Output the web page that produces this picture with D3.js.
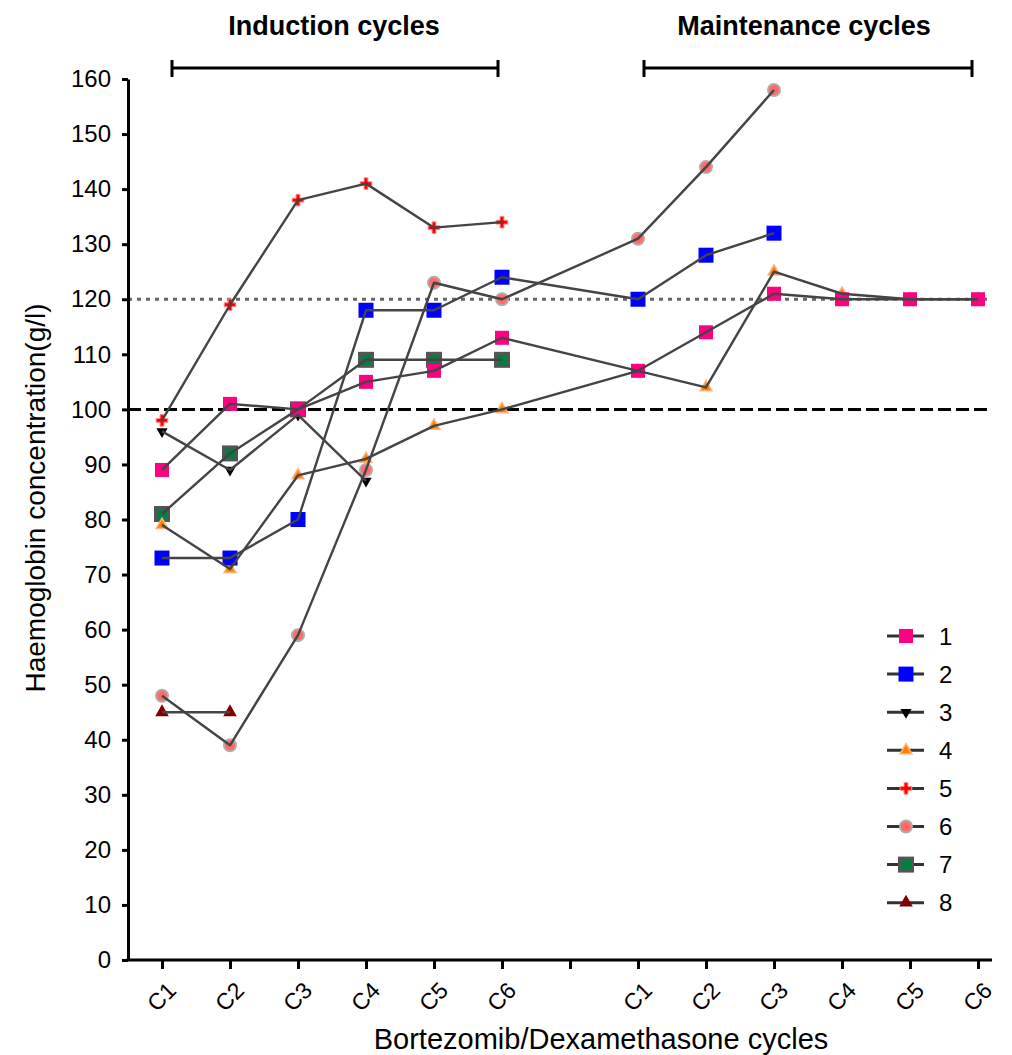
<!DOCTYPE html>
<html>
<head>
<meta charset="utf-8">
<script src="https://cdn.jsdelivr.net/npm/d3@7"></script>
<style>
  html, body { margin: 0; padding: 0; background: #fff; }
  svg { display: block; font-family: "Liberation Sans", Arial, sans-serif; }
</style>
</head>
<body>
<svg id="chart" width="1012" height="1055"></svg>
<script>
// ---------------- data ----------------
const cycleLabels = ["C1", "C2", "C3", "C4", "C5", "C6"];
const phaseNames = ["Induction cycles", "Maintenance cycles"];
const yTicks = [0, 10, 20, 30, 40, 50, 60, 70, 80, 90, 100, 110, 120, 130, 140, 150, 160];
const seriesNames = ["1", "2", "3", "4", "5", "6", "7", "8"];
const refDashed = 100;
const refDotted = 120;

// values: 6 induction cycles followed by 6 maintenance cycles (null = no value)
const s1 = [89, 101, 100, 105, 107, 113, 107, 114, 121, 120, 120, 120];
const s2 = [73, 73, 80, 118, 118, 124, 120, 128, 132, null, null, null];
const s3 = [96, 89, 99, 87, null, null, null, null, null, null, null, null];
const s4 = [79, 71, 88, 91, 97, 100, 107, 104, 125, 121, 120, 120];
const s5 = [98, 119, 138, 141, 133, 134, null, null, null, null, null, null];
const s6 = [48, 39, 59, 89, 123, 120, 131, 144, 158, null, null, null];
const s7 = [81, 92, 100, 109, 109, 109, null, null, null, null, null, null];
const s8 = [45, 45, null, null, null, null, null, null, null, null, null, null];
const seriesValues = [s1, s2, s3, s4, s5, s6, s7, s8];

// ---------------- layout ----------------
const svg = d3.select("#chart");
const axisX = 128, plotTop = 79, plotBottom = 960, axisRight = 992;
const firstPt = 162, lastPt = 978;

const inductionKeys = cycleLabels.map(c => "I-" + c);
const maintenanceKeys = cycleLabels.map(c => "M-" + c);
const dataKeys = inductionKeys.concat(maintenanceKeys);
const allKeys = inductionKeys.concat(["gap"], maintenanceKeys);

const x = d3.scalePoint().domain(allKeys).range([firstPt, lastPt]);
const y = d3.scaleLinear().domain([0, 160]).range([plotBottom, plotTop]);

const font = "'Liberation Sans', Arial, sans-serif";

// ---------------- reference lines ----------------
svg.append("line")
  .attr("x1", axisX).attr("x2", axisRight - 5)
  .attr("y1", y(refDashed)).attr("y2", y(refDashed))
  .attr("stroke", "#000").attr("stroke-width", 3)
  .attr("stroke-dasharray", "13,5");
svg.append("line")
  .attr("x1", axisX).attr("x2", axisRight)
  .attr("y1", y(refDotted)).attr("y2", y(refDotted))
  .attr("stroke", "#666").attr("stroke-width", 3)
  .attr("stroke-dasharray", "4,5");

// ---------------- axes ----------------
const yAxis = d3.axisLeft(y).tickValues(yTicks).tickSize(6).tickSizeOuter(0).tickPadding(11);
const gy = svg.append("g").attr("transform", `translate(${axisX},0)`).call(yAxis);
gy.select(".domain").attr("stroke-width", 3).attr("stroke", "#000");
gy.selectAll(".tick line").attr("stroke-width", 3).attr("stroke", "#000");
gy.selectAll(".tick text").attr("font-size", 24).attr("font-family", font).attr("fill", "#000");

const xAxis = d3.axisBottom(x).tickSize(9).tickSizeOuter(0)
  .tickFormat(k => k === "gap" ? "" : k.slice(2));
const gx = svg.append("g").attr("transform", `translate(0,${plotBottom})`).call(xAxis);
gx.select(".domain").remove();
gx.append("line").attr("x1", axisX - 1.5).attr("x2", axisRight).attr("y1", 0).attr("y2", 0)
  .attr("stroke", "#000").attr("stroke-width", 3);
gx.selectAll(".tick line").attr("stroke-width", 3).attr("stroke", "#000");
gx.selectAll(".tick text")
  .attr("font-size", 23).attr("font-family", font).attr("fill", "#000")
  .attr("x", null).attr("y", null).attr("dy", null)
  .attr("text-anchor", "end")
  .attr("transform", "translate(15,32) rotate(-45)");

// axis titles
svg.append("text")
  .attr("x", 601).attr("y", 1049)
  .attr("text-anchor", "middle").attr("font-size", 29).attr("font-family", font)
  .text("Bortezomib/Dexamethasone cycles");
svg.append("text")
  .attr("transform", "translate(45,498) rotate(-90)")
  .attr("text-anchor", "middle").attr("font-size", 28).attr("font-family", font)
  .text("Haemoglobin concentration(g/l)");

// ---------------- phase brackets ----------------
const phases = [
  { name: phaseNames[0], x1: x(inductionKeys[0]) + 10, x2: x(inductionKeys[5]) - 4, cx: 334 },
  { name: phaseNames[1], x1: x(maintenanceKeys[0]) + 6, x2: x(maintenanceKeys[5]) - 6, cx: 804 }
];
phases.forEach(p => {
  const g = svg.append("g");
  g.append("line").attr("x1", p.x1).attr("x2", p.x2).attr("y1", 68).attr("y2", 68)
    .attr("stroke", "#000").attr("stroke-width", 3);
  [p.x1, p.x2].forEach(xx => g.append("line").attr("x1", xx).attr("x2", xx).attr("y1", 60).attr("y2", 77)
    .attr("stroke", "#000").attr("stroke-width", 3));
  svg.append("text").attr("x", p.cx).attr("y", 35).attr("text-anchor", "middle")
    .attr("font-size", 27).attr("font-weight", "bold").attr("font-family", font)
    .text(p.name);
});

// ---------------- markers ----------------
function drawMarker(g, i) {
  switch (i) {
    case 0:
      g.append("rect").attr("x", -7).attr("y", -7).attr("width", 14).attr("height", 14).attr("fill", "#FF0080");
      break;
    case 1:
      g.append("rect").attr("x", -7.5).attr("y", -7.5).attr("width", 15).attr("height", 15).attr("fill", "#0000FF");
      break;
    case 2:
      g.append("path").attr("d", d3.symbol(d3.symbolTriangle, 55)()).attr("transform", "rotate(180)").attr("fill", "#000");
      break;
    case 3:
      g.append("path").attr("d", d3.symbol(d3.symbolTriangle, 60)()).attr("fill", "#FF8000")
        .attr("stroke", "#FFB27A").attr("stroke-width", 1.5);
      break;
    case 4:
      g.append("path").attr("d", d3.symbol(d3.symbolCross, 75)()).attr("fill", "#FF0000")
        .attr("stroke", "#FF9090").attr("stroke-width", 1);
      break;
    case 5:
      g.append("circle").attr("r", 6).attr("fill", "#FF6A6A").attr("stroke", "#B8A8A8").attr("stroke-width", 2);
      break;
    case 6:
      g.append("rect").attr("x", -6.5).attr("y", -6.5).attr("width", 13).attr("height", 13)
        .attr("fill", "#007F3F").attr("stroke", "#555").attr("stroke-width", 3);
      break;
    case 7:
      g.append("path").attr("d", d3.symbol(d3.symbolTriangle, 80)()).attr("fill", "#800000");
      break;
  }
}

const line = d3.line()
  .defined(d => d.v !== null)
  .x(d => x(d.k))
  .y(d => y(d.v));

const seriesData = seriesValues.map(vals => vals.map((v, j) => ({ k: dataKeys[j], v })));

// markers (series 1 on top)
for (let i = seriesData.length - 1; i >= 0; i--) {
  seriesData[i].filter(d => d.v !== null).forEach(d => {
    const g = svg.append("g").attr("transform", `translate(${x(d.k)},${y(d.v)})`);
    drawMarker(g, i);
  });
}
// connecting lines drawn over the markers
seriesData.forEach(data => {
  svg.append("path").datum(data.filter(d => d.v !== null))
    .attr("d", line)
    .attr("fill", "none").attr("stroke", "#444").attr("stroke-width", 2.4)
    .attr("stroke-linejoin", "round");
});

// ---------------- legend ----------------
const legendY0 = 636, legendStep = 38.1;
seriesNames.forEach((name, i) => {
  const ly = legendY0 + i * legendStep;
  const g = svg.append("g").attr("transform", `translate(906,${ly})`);
  g.append("line").attr("x1", -19).attr("x2", 18).attr("y1", 0).attr("y2", 0)
    .attr("stroke", "#333").attr("stroke-width", 3);
  drawMarker(g, i);
  svg.append("text").attr("x", 939).attr("y", ly).attr("dy", "0.36em")
    .attr("font-size", 24).attr("font-family", font).text(name);
});
</script>
</body>
</html>
